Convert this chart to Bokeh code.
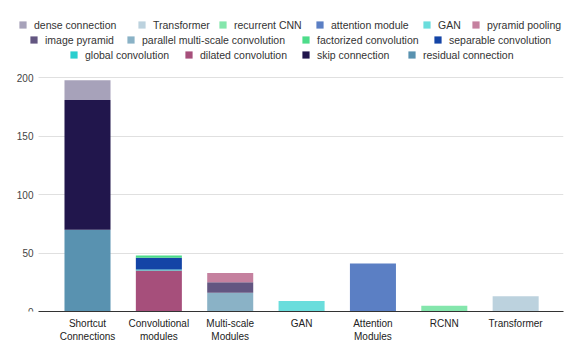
from bokeh.plotting import figure
from bokeh.models import (Legend, LegendItem, FixedTicker, ColumnDataSource, Range1d,
                          BoxAnnotation)
from bokeh.embed import file_html
from bokeh.resources import INLINE

categories = ["Shortcut\nConnections", "Convolutional\nmodules", "Multi-scale\nModules",
              "GAN", "Attention\nModules", "RCNN", "Transformer"]

# stack order, bottom first
series_names = ["residual connection", "skip connection", "dense connection",
                "dilated convolution", "global convolution", "separable convolution",
                "factorized convolution", "parallel multi-scale convolution",
                "image pyramid", "pyramid pooling", "GAN", "attention module",
                "recurrent CNN", "Transformer"]

residual_connection = [70, 0, 0, 0, 0, 0, 0]
skip_connection = [111, 0, 0, 0, 0, 0, 0]
dense_connection = [17, 0, 0, 0, 0, 0, 0]
dilated_convolution = [0, 35, 0, 0, 0, 0, 0]
global_convolution = [0, 1, 0, 0, 0, 0, 0]
separable_convolution = [0, 10, 0, 0, 0, 0, 0]
factorized_convolution = [0, 2, 0, 0, 0, 0, 0]
parallel_multiscale = [0, 0, 16, 0, 0, 0, 0]
image_pyramid = [0, 0, 9, 0, 0, 0, 0]
pyramid_pooling = [0, 0, 8, 0, 0, 0, 0]
gan = [0, 0, 0, 9, 0, 0, 0]
attention_module = [0, 0, 0, 0, 41, 0, 0]
recurrent_cnn = [0, 0, 0, 0, 0, 5, 0]
transformer = [0, 0, 0, 0, 0, 0, 13]

series_values = [residual_connection, skip_connection, dense_connection,
                 dilated_convolution, global_convolution, separable_convolution,
                 factorized_convolution, parallel_multiscale, image_pyramid,
                 pyramid_pooling, gan, attention_module, recurrent_cnn, transformer]

series_colors = ["#5992b0", "#21164c", "#a7a2ba",
                 "#a64f7b", "#2acfcf", "#1444a6", "#4ddc8a",
                 "#8ab2c6", "#635681", "#c5819f", "#6adddc",
                 "#5b7fc4", "#84e6ac", "#bcd2de"]

y_ticks = [0, 50, 100, 150, 200]

legend_rows = [
    ["dense connection", "Transformer", "recurrent CNN", "attention module", "GAN", "pyramid pooling"],
    ["image pyramid", "parallel multi-scale convolution", "factorized convolution", "separable convolution"],
    ["global convolution", "dilated convolution", "skip connection", "residual connection"],
]
# layout only: screen offsets (px) of legend entries from the frame's bottom-left corner
legend_row_y = [280, 265, 250]
legend_item_x = [
    [18, 137, 218, 315, 422, 471],
    [29, 126, 301, 433],
    [69, 184, 301, 407],
]

positions = list(range(len(categories)))
keys = ["s%d" % i for i in range(len(series_names))]
data = {"x": positions}
for k, v in zip(keys, series_values):
    data[k] = v
source = ColumnDataSource(data)

# layout: one category slot is 71.36 px; the frame spans the full width so the legend fits
slot = 71.36
x_start = -87 / slot
x_end = x_start + 563 / slot
axis_x = x_start + 38 / slot

p = figure(frame_width=563, frame_height=311, output_backend="svg", toolbar_location=None,
           x_range=Range1d(x_start, x_end), y_range=Range1d(0, 266.2), title=None,
           min_border_left=0, min_border_right=18, min_border_top=0, min_border_bottom=48)

renderers = p.vbar_stack(keys, x="x", width=0.645, source=source,
                         color=series_colors, line_color=None)
by_name = dict(zip(series_names, renderers))

p.outline_line_color = None
p.xgrid.grid_line_color = None
p.ygrid.grid_line_color = "#e0e0e0"
p.ygrid.ticker = FixedTicker(ticks=y_ticks)
ygrid = p.ygrid[0]
if "cross_bounds" in ygrid.properties():
    ygrid.cross_bounds = (axis_x, x_end)
else:
    p.add_layout(BoxAnnotation(left=0, right=38, left_units="screen", right_units="screen",
                               fill_color="white", fill_alpha=1, line_color=None,
                               level="underlay"))

p.yaxis.ticker = FixedTicker(ticks=y_ticks)
p.yaxis.fixed_location = axis_x
p.yaxis.axis_line_color = None
p.yaxis.major_tick_line_color = None
p.yaxis.minor_tick_line_color = None
p.yaxis.major_tick_out = 0
p.yaxis.major_tick_in = 0
p.yaxis.minor_tick_out = 0
p.yaxis.major_label_text_font = "Liberation Sans"
p.yaxis.major_label_text_font_size = "10px"
p.yaxis.major_label_text_color = "#444444"
p.yaxis.major_label_standoff = 5

p.xaxis.ticker = FixedTicker(ticks=positions)
p.xaxis.major_label_overrides = {i: c for i, c in zip(positions, categories)}
p.xaxis.bounds = (axis_x, x_end)
p.xaxis.axis_line_color = "#333333"
p.xaxis.major_tick_line_color = None
p.xaxis.minor_tick_line_color = None
p.xaxis.major_tick_out = 0
p.xaxis.major_tick_in = 0
p.xaxis.minor_tick_out = 0
p.xaxis.major_label_text_font = "Liberation Sans"
p.xaxis.major_label_text_font_size = "10px"
p.xaxis.major_label_text_color = "#222222"
p.xaxis.major_label_standoff = 6

for row, xs, y in zip(legend_rows, legend_item_x, legend_row_y):
    for name, x in zip(row, xs):
        lg = Legend(items=[LegendItem(label=name, renderers=[by_name[name]])],
                    location=(x, y), margin=0, padding=0, label_standoff=7,
                    glyph_width=9, glyph_height=9, label_height=13,
                    label_text_font="Liberation Sans", label_text_font_size="10.5px",
                    label_text_color="#333333", background_fill_alpha=0,
                    border_line_color=None)
        p.add_layout(lg, "center")

open("out.html", "w").write(file_html(p, INLINE))
